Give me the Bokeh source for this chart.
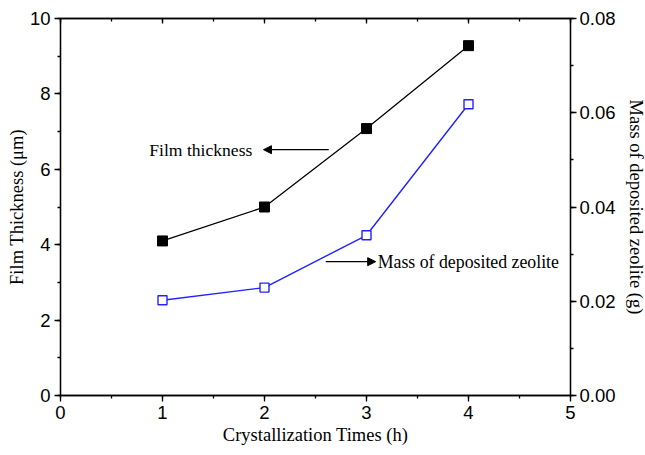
from bokeh.plotting import figure
from bokeh.models import (LinearAxis, Range1d, SingleIntervalTicker, PrintfTickFormatter,
                          Arrow, NormalHead, Label)
from bokeh.embed import file_html
from bokeh.resources import INLINE

# ---- data ----
times = [1, 2, 3, 4]
thickness = [4.1, 5.0, 7.08, 9.28]          # µm (left axis)
mass = [0.0202, 0.0229, 0.0340, 0.0618]     # g (right axis)

x_ticks = [0, 1, 2, 3, 4, 5]
x_title = "Crystallization Times (h)"
y_title = "Film Thickness (μm)"
y2_title = "Mass of deposited zeolite (g)"

ann1_text = "Film thickness"
ann1_pos = (0.87, 6.52)
ann1_arrow = (2.63, 6.52, 1.99, 6.52)
ann2_text = "Mass of deposited zeolite"
ann2_pos = (3.11, 3.55)
ann2_arrow = (2.60, 3.55, 3.09, 3.55)

TICK_FONT = "Liberation Sans"
TITLE_FONT = "Liberation Serif"

p = figure(frame_width=510, frame_height=377,
           x_range=Range1d(0, 5), y_range=Range1d(0, 10),
           output_backend="svg", toolbar_location=None,
           min_border_left=60, min_border_right=60, min_border_top=18, min_border_bottom=50)
p.extra_y_ranges = {"mass": Range1d(0, 0.08)}
p.xgrid.visible = False
p.ygrid.visible = False
p.outline_line_color = "black"
p.outline_line_width = 1.3
p.background_fill_color = "white"
p.border_fill_color = "white"

def style_axis(ax):
    ax.axis_line_color = "black"
    ax.axis_line_width = 1.3
    ax.major_tick_line_color = "black"
    ax.minor_tick_line_color = "black"
    ax.major_tick_line_width = 1.3
    ax.minor_tick_line_width = 1.3
    ax.major_tick_out = 6
    ax.major_tick_in = 0
    ax.minor_tick_out = 3
    ax.minor_tick_in = 0
    ax.major_label_text_font = TICK_FONT
    ax.major_label_text_font_size = "18.5px"
    ax.major_label_text_color = "black"
    ax.axis_label_text_font = TITLE_FONT
    ax.axis_label_text_font_size = "18.5px"
    ax.axis_label_text_font_style = "normal"
    ax.axis_label_text_color = "black"

xa = p.xaxis[0]
xa.ticker = SingleIntervalTicker(interval=1, num_minor_ticks=2)
xa.axis_label = x_title
style_axis(xa)
xa.major_label_standoff = 4
xa.axis_label_standoff = 3

ya = p.yaxis[0]
ya.ticker = SingleIntervalTicker(interval=2, num_minor_ticks=2)
ya.axis_label = y_title
style_axis(ya)
ya.major_label_standoff = 4
ya.axis_label_standoff = 0

ra = LinearAxis(y_range_name="mass", axis_label=y2_title,
                ticker=SingleIntervalTicker(interval=0.02, num_minor_ticks=2),
                formatter=PrintfTickFormatter(format="%.2f"))
style_axis(ra)
ra.major_label_standoff = 3
ra.axis_label_standoff = 7
p.add_layout(ra, "right")

ta = LinearAxis(ticker=SingleIntervalTicker(interval=1, num_minor_ticks=2))
style_axis(ta)
ta.major_tick_out = 0
ta.major_tick_in = 5
ta.minor_tick_out = 0
ta.minor_tick_in = 3
ta.major_label_overrides = {t: "" for t in x_ticks}
ta.major_label_standoff = 0
p.add_layout(ta, "above")

# series
p.line(times, thickness, line_color="black", line_width=1.3)
p.scatter(times, thickness, marker="square", size=10, fill_color="black", line_color="black")

p.line(times, mass, y_range_name="mass", line_color="#2222ff", line_width=1.4)
p.scatter(times, mass, y_range_name="mass", marker="square", size=9,
          fill_color="white", line_color="#2222ff", line_width=1.4)

# annotations
for (x0, y0, x1, y1) in (ann1_arrow, ann2_arrow):
    p.add_layout(Arrow(end=NormalHead(size=8, fill_color="black", line_color="black", line_width=1),
                       x_start=x0, y_start=y0, x_end=x1, y_end=y1,
                       line_color="black", line_width=1.2))

p.add_layout(Label(x=ann1_pos[0], y=ann1_pos[1], text=ann1_text, text_font=TITLE_FONT,
                   text_font_size="17.6px", text_baseline="middle", text_align="left",
                   text_color="black"))
p.add_layout(Label(x=ann2_pos[0], y=ann2_pos[1], text=ann2_text, text_font=TITLE_FONT,
                   text_font_size="17.8px", text_baseline="middle", text_align="left",
                   text_color="black"))

open("out.html", "w").write(file_html(p, INLINE))
